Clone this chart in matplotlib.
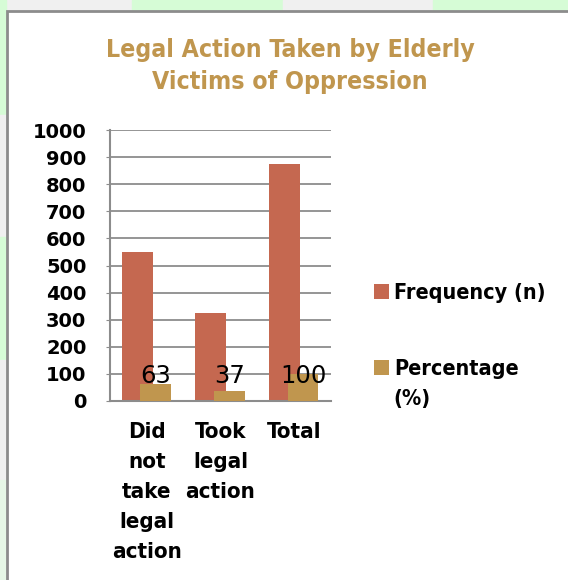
import matplotlib.pyplot as plt
from matplotlib.patches import Rectangle
import numpy as np

# данные
categories = ['Did\nnot\ntake\nlegal\naction', 'Took\nlegal\naction', 'Total']
frequency = [550, 325, 875]
percentage = [63, 37, 100]
pct_labels = ['63', '37', '100']
y_ticks = [0, 100, 200, 300, 400, 500, 600, 700, 800, 900, 1000]

red = '#c56850'
gold = '#c0964e'
cond = dict(family='DejaVu Sans', stretch='condensed')

fig = plt.figure(figsize=(5.68, 5.80), dpi=100)
fig.patch.set_facecolor('#f0f0f0')

# фон вокруг рамки
for x0, w, c in [(0, 132, '#f0f0f0'), (132, 151, '#d6fcd6'), (283, 150, '#f0f0f0'), (433, 135, '#d6fcd6')]:
    fig.patches.append(Rectangle((x0 / 568, 1 - 10 / 580), w / 568, 10 / 580,
                                 transform=fig.transFigure, color=c, zorder=-3))
for y0, h, c in [(0, 115, '#d6fcd6'), (115, 122, '#f0f0f0'), (237, 123, '#d6fcd6'),
                 (360, 120, '#f0f0f0'), (480, 100, '#e6f7e6')]:
    fig.patches.append(Rectangle((0, 1 - (y0 + h) / 580), 6 / 568, h / 580,
                                 transform=fig.transFigure, color=c, zorder=-3))
fig.patches.append(Rectangle((6.5 / 568, -0.01), 1.0, 1 - 10.5 / 580 + 0.01,
                             transform=fig.transFigure, facecolor='white',
                             edgecolor='#8c8c8c', linewidth=2, zorder=-2))

ax = fig.add_axes([110 / 568, 1 - 401 / 580, 221 / 568, 271 / 580])
ax.set_facecolor('none')

x = np.arange(len(categories))
w = 0.42
b1 = ax.bar(x - 0.13, frequency, w, color=red, label='Frequency (n)', zorder=2)
b2 = ax.bar(x + 0.12, percentage, w, color=gold, label='Percentage', zorder=3)

for xi, lab in zip(x, pct_labels):
    ax.text(xi + 0.12, 92, lab, ha='center', va='center', fontsize=17.5,
            family='DejaVu Sans', color='black', zorder=4)

ax.set_xlim(-0.5, 2.5)
ax.set_ylim(0, 1000)
ax.set_yticks(y_ticks)
ax.set_yticklabels([str(t) for t in y_ticks], fontsize=14, fontweight='bold',
                   family='DejaVu Sans')
ax.tick_params(axis='y', length=3, color='#8c8c8c', pad=14)
ax.set_xticks(x)
ax.set_xticklabels(categories, fontsize=16, fontweight='bold', linespacing=1.62,
                   va='top', **cond)
ax.tick_params(axis='x', length=0, pad=15)

ax.yaxis.grid(True, color='#8c8c8c', linewidth=1.3)
ax.set_axisbelow(True)
for s in ['top', 'right']:
    ax.spines[s].set_visible(False)
for s in ['left', 'bottom']:
    ax.spines[s].set_color('#8c8c8c')
    ax.spines[s].set_linewidth(1.5)

fig.text(290 / 568, 1 - 66 / 580, 'Legal Action Taken by Elderly\nVictims of Oppression',
         ha='center', va='center', fontsize=17.8, fontweight='bold',
         color=gold, linespacing=1.38, **cond)

leg = ax.legend(loc='upper left', bbox_to_anchor=(365 / 568, 1 - 274 / 580),
                bbox_transform=fig.transFigure, frameon=False,
                prop={'family': 'DejaVu Sans', 'stretch': 'condensed',
                      'weight': 'bold', 'size': 15.5},
                handlelength=0.7, handleheight=0.7, handletextpad=0.25,
                labelspacing=2.6, borderaxespad=0)
fig.text(393 / 568, 1 - 399 / 580, '(%)', ha='left', va='center', fontsize=15.5,
         fontweight='bold', **cond)

fig.savefig('out.png', dpi=100)
